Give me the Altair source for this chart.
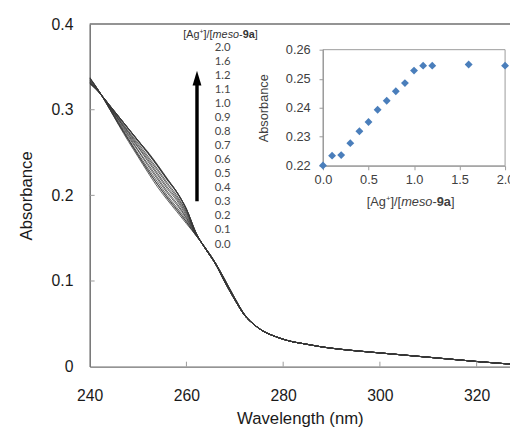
import altair as alt
import pandas as pd

# ---------------- data ----------------
ratios = ["0.0", "0.1", "0.2", "0.3", "0.4", "0.5", "0.6", "0.7", "0.8", "0.9",
          "1.0", "1.1", "1.2", "1.6", "2.0"]
wl_div = [240, 242, 244, 246, 248, 250, 252, 254, 256, 258, 260, 262, 264, 266, 268, 270, 272]
spectra_div = {
    "0.0": [0.338, 0.321, 0.302, 0.282, 0.263, 0.245, 0.227, 0.210, 0.195, 0.181, 0.167, 0.153, 0.138, 0.121, 0.101, 0.080, 0.061],
    "0.1": [0.337, 0.321, 0.302, 0.283, 0.265, 0.247, 0.229, 0.213, 0.197, 0.183, 0.169, 0.153, 0.138, 0.121, 0.101, 0.080, 0.061],
    "0.2": [0.337, 0.321, 0.302, 0.283, 0.265, 0.247, 0.230, 0.213, 0.198, 0.184, 0.169, 0.153, 0.138, 0.121, 0.101, 0.080, 0.061],
    "0.3": [0.337, 0.321, 0.303, 0.284, 0.266, 0.249, 0.232, 0.216, 0.200, 0.186, 0.171, 0.154, 0.138, 0.121, 0.100, 0.080, 0.061],
    "0.4": [0.336, 0.321, 0.303, 0.285, 0.268, 0.252, 0.235, 0.219, 0.203, 0.189, 0.173, 0.154, 0.138, 0.121, 0.100, 0.079, 0.061],
    "0.5": [0.335, 0.321, 0.304, 0.286, 0.270, 0.253, 0.237, 0.221, 0.205, 0.191, 0.174, 0.154, 0.138, 0.121, 0.100, 0.079, 0.061],
    "0.6": [0.334, 0.320, 0.304, 0.288, 0.271, 0.256, 0.240, 0.224, 0.208, 0.194, 0.176, 0.155, 0.137, 0.120, 0.099, 0.079, 0.060],
    "0.7": [0.334, 0.320, 0.305, 0.288, 0.273, 0.257, 0.242, 0.226, 0.210, 0.196, 0.178, 0.155, 0.137, 0.120, 0.099, 0.079, 0.060],
    "0.8": [0.333, 0.320, 0.305, 0.289, 0.274, 0.259, 0.244, 0.229, 0.213, 0.198, 0.180, 0.155, 0.137, 0.120, 0.099, 0.079, 0.060],
    "0.9": [0.332, 0.320, 0.305, 0.290, 0.275, 0.261, 0.246, 0.231, 0.215, 0.200, 0.181, 0.155, 0.137, 0.120, 0.099, 0.078, 0.060],
    "1.0": [0.331, 0.320, 0.306, 0.291, 0.277, 0.263, 0.249, 0.234, 0.218, 0.203, 0.183, 0.156, 0.137, 0.120, 0.098, 0.078, 0.060],
    "1.1": [0.331, 0.320, 0.306, 0.292, 0.278, 0.264, 0.250, 0.235, 0.219, 0.204, 0.184, 0.156, 0.137, 0.120, 0.098, 0.078, 0.060],
    "1.2": [0.331, 0.320, 0.306, 0.292, 0.278, 0.264, 0.250, 0.235, 0.219, 0.204, 0.184, 0.156, 0.137, 0.120, 0.098, 0.078, 0.060],
    "1.6": [0.331, 0.320, 0.306, 0.292, 0.278, 0.264, 0.251, 0.236, 0.220, 0.204, 0.184, 0.156, 0.137, 0.120, 0.098, 0.078, 0.060],
    "2.0": [0.331, 0.320, 0.306, 0.292, 0.278, 0.264, 0.250, 0.235, 0.219, 0.204, 0.184, 0.156, 0.137, 0.120, 0.098, 0.078, 0.060],
}
wl_tail = [274, 276, 278, 280, 282, 284, 286, 288, 290, 295, 300, 305, 310, 315, 320, 325, 327]
abs_tail = [0.049, 0.041, 0.036, 0.032, 0.029, 0.027, 0.025, 0.023, 0.0215, 0.0185,
            0.016, 0.0135, 0.011, 0.0085, 0.006, 0.0038, 0.003]

inset_ratio = [0.0, 0.1, 0.2, 0.3, 0.4, 0.5, 0.6, 0.7, 0.8, 0.9, 1.0, 1.1, 1.2, 1.6, 2.0]
inset_abs = [0.2201, 0.2235, 0.2237, 0.2278, 0.2319, 0.2351, 0.2393, 0.2424, 0.2457,
             0.2485, 0.2528, 0.2545, 0.2545, 0.2549, 0.2545]

legend_labels = ["2.0", "1.6", "1.2", "1.1", "1.0", "0.9", "0.8", "0.7", "0.6", "0.5",
                 "0.4", "0.3", "0.2", "0.1", "0.0"]

x_ticks = [240, 260, 280, 300, 320]
y_ticks = [0.0, 0.1, 0.2, 0.3, 0.4]
x_domain = [240, 326.9]
y_domain = [0.0, 0.4]
inset_x_ticks = [0.0, 0.5, 1.0, 1.5, 2.0]
inset_y_ticks = [0.22, 0.23, 0.24, 0.25, 0.26]
inset_x_domain = [0.0, 2.0]
inset_y_domain = [0.22, 0.26]

# ---------------- tables ----------------
rows = []
for r in ratios:
    for w, a in zip(wl_div + wl_tail, spectra_div[r] + abs_tail):
        rows.append({"ratio": r, "wl": w, "A": a})
spec_df = pd.DataFrame(rows)
inset_df = pd.DataFrame({"r": inset_ratio, "a": inset_abs})
frame_df = pd.DataFrame({"r": [inset_x_domain[0]], "r2": [inset_x_domain[1]],
                         "a": [inset_y_domain[0]], "a2": [inset_y_domain[1]]})
xt_df = pd.DataFrame({"wl": x_ticks[1:]})
yt_df = pd.DataFrame({"A": y_ticks[1:-1]})
leg_df = pd.DataFrame({"lab": legend_labels})
one = pd.DataFrame({"k": [0]})

W, H = 427, 348
FONT = "Liberation Sans"
AXC = "#707070"

X_main = alt.X("wl:Q", scale=alt.Scale(domain=x_domain, nice=False, zero=False),
               axis=alt.Axis(orient="bottom", values=x_ticks, format="d", title="Wavelength (nm)",
                             ticks=False, tickSize=0, grid=False, labelFlush=False, labelOverlap=False,
                             labelPadding=21, labelFont=FONT, labelFontSize=16, labelColor="#1a1a1a",
                             titleFont=FONT, titleFontSize=17, titleFontWeight="normal",
                             titleColor="#1a1a1a", titlePadding=8,
                             domainColor=AXC, domainWidth=1.5))
Y_main = alt.Y("A:Q", scale=alt.Scale(domain=y_domain, nice=False, zero=True),
               axis=alt.Axis(orient="left", values=y_ticks,
                             labelExpr="datum.value == 0 ? '0' : format(datum.value, '.1f')",
                             title="Absorbance", ticks=False, tickSize=0, grid=False,
                             labelPadding=17, labelFont=FONT, labelFontSize=16, labelColor="#1a1a1a",
                             titleFont=FONT, titleFontSize=17, titleFontWeight="normal",
                             titleColor="#1a1a1a", titlePadding=16,
                             domainColor=AXC, domainWidth=1.5))

lines = alt.Chart(spec_df).mark_line(strokeWidth=0.8, color="#383838", interpolate="monotone",
                                     clip=True).encode(x=X_main, y=Y_main, detail="ratio:N")
xticks_l = alt.Chart(xt_df).mark_rule(color="#9a9a9a", strokeWidth=1).encode(
    x=X_main, y=alt.value(H - 5), y2=alt.value(H))
yticks_l = alt.Chart(yt_df).mark_rule(color="#9a9a9a", strokeWidth=1).encode(
    y=Y_main, x=alt.value(0), x2=alt.value(5))
top_rule = alt.Chart(one).mark_rule(color=AXC, strokeWidth=1.5).encode(
    x=alt.value(0), x2=alt.value(W), y=alt.value(0))
main = alt.layer(lines, xticks_l, yticks_l, top_rule)

# ---------------- inset ----------------
IC = "#404040"
IAX = "#9a9a9a"
ix_axis = alt.Axis(orient="bottom", offset=-204, values=inset_x_ticks, format=".1f", title=None,
                   grid=False, tickSize=4, tickColor=IAX, domainColor=IAX, labelPadding=4,
                   labelFont=FONT, labelFontSize=13, labelColor=IC, labelFlush=False, labelOverlap=False)
iy_axis = alt.Axis(orient="left", offset=-237, values=inset_y_ticks, format=".2f", title="Absorbance",
                   grid=False, tickSize=4, tickColor=IAX, domainColor=IAX, labelPadding=9,
                   labelFont=FONT, labelFontSize=13, labelColor=IC,
                   titleFont=FONT, titleFontSize=13, titleFontWeight="normal", titleColor=IC,
                   titlePadding=15)
ix_scale = alt.Scale(domain=inset_x_domain, range=[237, 422], nice=False, zero=False)
iy_scale = alt.Scale(domain=inset_y_domain, range=[144, 26], nice=False, zero=False)

frame = alt.Chart(frame_df).mark_rect(fillOpacity=0, stroke=IAX, strokeWidth=1).encode(
    x=alt.X("r:Q", scale=ix_scale, axis=ix_axis), x2="r2:Q",
    y=alt.Y("a:Q", scale=iy_scale, axis=iy_axis), y2="a2:Q")
pts = alt.Chart(inset_df).mark_point(shape="diamond", filled=True, size=64, color="#4a7ebb",
                                     opacity=1).encode(
    x=alt.X("r:Q", scale=ix_scale, axis=ix_axis),
    y=alt.Y("a:Q", scale=iy_scale, axis=iy_axis))


def seg(text, x, y, size, color, style="normal", weight="normal", font=FONT):
    return alt.Chart(one).mark_text(text=text, align="left", baseline="alphabetic", font=font,
                                    fontSize=size, fontStyle=style, fontWeight=weight,
                                    color=color).encode(x=alt.value(x), y=alt.value(y))


def rich_title(x0, base, size, sup, raise_, color):
    k = size / 1000.0
    parts = []
    x = x0
    parts.append(seg("[Ag", x, base, size, color)); x += 1501 * k
    parts.append(seg("+", x, base - raise_, sup, color)); x += 584 * sup / 1000.0
    parts.append(seg("]/[", x, base, size, color)); x += 834 * k
    parts.append(seg("meso", x, base, size, color, style="italic")); x += 2445 * k
    parts.append(seg("-", x, base, size, color)); x += 333 * k
    parts.append(seg("9a", x, base, size, color, weight="bold")); x += 1112 * k
    parts.append(seg("]", x, base, size, color))
    return parts


inset_title = rich_title(281.4, 185, 13, 8, 5, IC)
inset = alt.layer(frame, pts, *inset_title)

# ---------------- legend list + arrow ----------------
leg = alt.Chart(leg_df).mark_text(align="left", baseline="middle", font="Lato", fontSize=11.5,
                                  color="#474747").encode(
    y=alt.Y("lab:N", sort=None, axis=None,
            scale=alt.Scale(type="point", domain=legend_labels, range=[24, 224], padding=0)),
    x=alt.value(127), text="lab:N")
header = rich_title(95.1, 14.5, 11, 7, 4, "#333333")
shaft = alt.Chart(one).mark_rule(strokeWidth=3.5, color="black").encode(
    x=alt.value(109), y=alt.value(61), y2=alt.value(180))
head = alt.Chart(one).mark_point(shape="M0,-1L0.6,1L-0.6,1Z", filled=True, size=225, color="black",
                                 opacity=1, strokeWidth=0).encode(x=alt.value(109), y=alt.value(55))
legend = alt.layer(leg, shaft, head, *header)

chart = alt.layer(main, inset, legend).resolve_scale(
    x="independent", y="independent"
).properties(
    width=W, height=H,
    autosize=alt.AutoSizeParams(type="none"),
    padding={"left": 83, "top": 13, "right": 0, "bottom": 59},
    background="white",
).configure_view(strokeWidth=0)

chart.save("out.html", embed_options={"renderer": "svg", "actions": False})
